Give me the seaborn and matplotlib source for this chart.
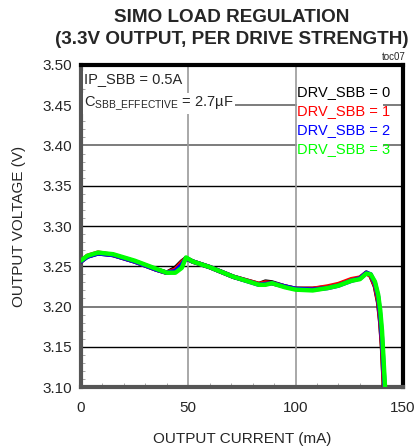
import numpy as np
import pandas as pd
import matplotlib
matplotlib.use("Agg")
import matplotlib.pyplot as plt
import seaborn as sns
from matplotlib.ticker import MultipleLocator
from matplotlib.patches import Rectangle

# load current (mA) and output voltage (V)
current = [0, 3, 8, 15, 25, 35, 40, 44, 47, 49, 52, 60, 71, 83, 86, 89,
           95, 100, 108, 115, 120, 126, 130, 133, 135, 137, 138.5, 139.5,
           140.3, 141, 141.6, 142.2]
v_drv0 = [3.256, 3.262, 3.266, 3.264, 3.256, 3.246, 3.242, 3.248, 3.256, 3.260,
          3.256, 3.249, 3.237, 3.228, 3.231, 3.230, 3.225, 3.222, 3.222, 3.224,
          3.227, 3.233, 3.235, 3.242, 3.238, 3.225, 3.205, 3.180, 3.150, 3.110,
          3.080, 3.050]
v_drv1 = [3.256, 3.263, 3.267, 3.264, 3.256, 3.246, 3.242, 3.246, 3.255, 3.260,
          3.256, 3.249, 3.237, 3.228, 3.230, 3.229, 3.225, 3.222, 3.222, 3.225,
          3.228, 3.234, 3.236, 3.242, 3.238, 3.226, 3.207, 3.182, 3.152, 3.112,
          3.082, 3.052]
v_drv2 = [3.256, 3.262, 3.266, 3.264, 3.256, 3.246, 3.242, 3.244, 3.252, 3.260,
          3.256, 3.249, 3.237, 3.227, 3.228, 3.229, 3.225, 3.222, 3.221, 3.223,
          3.226, 3.232, 3.235, 3.242, 3.240, 3.229, 3.212, 3.188, 3.160, 3.125,
          3.095, 3.065]
v_drv3 = [3.257, 3.263, 3.267, 3.265, 3.257, 3.247, 3.242, 3.242, 3.248, 3.261,
          3.256, 3.249, 3.237, 3.227, 3.227, 3.229, 3.224, 3.221, 3.220, 3.223,
          3.226, 3.232, 3.234, 3.241, 3.240, 3.231, 3.215, 3.195, 3.170, 3.135,
          3.105, 3.075]

series_names = ["DRV_SBB = 0", "DRV_SBB = 1", "DRV_SBB = 2", "DRV_SBB = 3"]
series_colors = ["#000000", "#ff0000", "#0000ff", "#00ff00"]

df = pd.concat([
    pd.DataFrame({"current": current, "voltage": v, "setting": name})
    for v, name in zip([v_drv0, v_drv1, v_drv2, v_drv3], series_names)
])

sns.set_style("white")
plt.rcParams['font.family'] = ['Liberation Sans', 'DejaVu Sans']
plt.rcParams['mathtext.fontset'] = 'custom'
plt.rcParams['mathtext.rm'] = 'Liberation Sans'

fig = plt.figure(figsize=(4.17, 4.48), dpi=100)
ax = fig.add_axes([0.194, 0.136, 0.772, 0.719])

# grid first so curves sit on top
for yv in [3.15, 3.25, 3.30, 3.35]:
    ax.axhline(yv, color='#000000', lw=1.0, zorder=1)
for yv in [3.20, 3.40, 3.45]:
    ax.axhline(yv, color='#666666', lw=1.2, zorder=1)
for xv in [50, 100]:
    ax.axvline(xv, color='#999999', lw=1.2, zorder=1)

sns.lineplot(data=df, x="current", y="voltage", hue="setting",
             palette=series_colors, hue_order=series_names, lw=3.2,
             sort=False, estimator=None, legend=False, ax=ax, zorder=3)

ax.set_xlim(0, 150)
ax.set_ylim(3.10, 3.50)
ax.set_xticks([0, 50, 100, 150])
ax.set_yticks(np.arange(3.10, 3.501, 0.05))
ax.set_yticklabels([f"{t:.2f}" for t in np.arange(3.10, 3.501, 0.05)])
ax.xaxis.set_minor_locator(MultipleLocator(10))
ax.yaxis.set_minor_locator(MultipleLocator(0.01))
ax.tick_params(axis='both', which='major', labelsize=11, length=4,
               direction='inout', color='#777777', pad=4)
ax.tick_params(axis='both', which='minor', length=3, direction='in',
               color='#999999', bottom=True, left=True)
ax.tick_params(axis='x', pad=8)

for side in ['left', 'bottom']:
    ax.spines[side].set_color('#555555')
    ax.spines[side].set_linewidth(3)
for side in ['top', 'right']:
    ax.spines[side].set_color('#000000')
    ax.spines[side].set_linewidth(3)

ax.set_xlabel("OUTPUT CURRENT (mA)", fontsize=11, labelpad=12)
ax.set_ylabel("OUTPUT VOLTAGE (V)", fontsize=11, labelpad=12)

fig.text(0.556, 0.960, "SIMO LOAD REGULATION", ha='center', va='center',
         fontsize=13.6, fontweight='bold')
fig.text(0.556, 0.911, "(3.3V OUTPUT, PER DRIVE STRENGTH)", ha='center',
         va='center', fontsize=13.6, fontweight='bold')
fig.text(0.972, 0.872, "toc07", ha='right', va='center', fontsize=7)

box = dict(facecolor='white', edgecolor='none', pad=1)
ax.text(1.5, 3.482, "IP_SBB = 0.5A", fontsize=10.5, va='center', ha='left',
        bbox=box, zorder=4)
ax.text(1.5, 3.452, r"C$_{\mathrm{SBB\_EFFECTIVE}}$ = 2.7µF", fontsize=10.5,
        va='center', ha='left', bbox=box, zorder=4)

# white panel behind the series labels, leaving the 100 mA gridline visible
ax.add_patch(Rectangle((100.6, 3.384), 40.0, 0.094, facecolor='white',
                       edgecolor='none', zorder=2))
for i, (name, col) in enumerate(zip(series_names, series_colors)):
    ax.text(100.8, 3.467 - i * 0.024, name, color=col, fontsize=10.5,
            va='center', ha='left', zorder=4)

fig.savefig("out.png", dpi=100)
